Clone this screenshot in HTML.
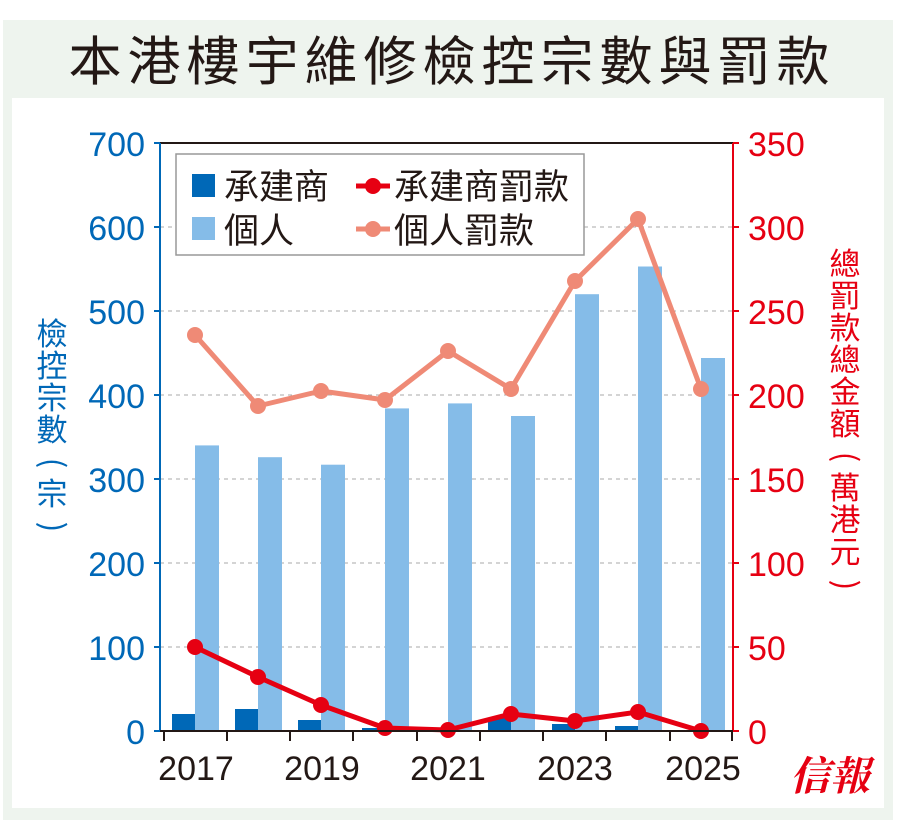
<!DOCTYPE html>
<html><head><meta charset="utf-8"><style>
body{margin:0;width:901px;height:826px;background:#fff;overflow:hidden;font-family:"Liberation Sans","Noto Sans CJK TC",sans-serif}
</style></head><body>
<svg width="901" height="826" xmlns="http://www.w3.org/2000/svg" style="position:absolute;left:0;top:0">
<rect x="3" y="20" width="890" height="800" fill="#eef4ee"/>
<rect x="12" y="98" width="872" height="710" fill="#fff"/>
<text x="452" y="80" font-size="53" text-anchor="middle" fill="#231815" font-family="Noto Sans CJK TC,sans-serif" letter-spacing="6">本港樓宇維修檢控宗數與罰款</text>
<g stroke="#aaa" stroke-dasharray="4,4" stroke-width="1">
<line x1="160" x2="733" y1="227" y2="227"/><line x1="160" x2="733" y1="311" y2="311"/><line x1="160" x2="733" y1="395" y2="395"/><line x1="160" x2="733" y1="479" y2="479"/><line x1="160" x2="733" y1="563" y2="563"/><line x1="160" x2="733" y1="647" y2="647"/>
</g>
<line x1="160" x2="733" y1="143" y2="143" stroke="#231815" stroke-width="2"/>
<g fill="#85bce8">
<rect x="195" y="445.4" width="24" height="285.6"/><rect x="258" y="457.2" width="24" height="273.8"/><rect x="321" y="464.7" width="24" height="266.3"/><rect x="385" y="408.4" width="24" height="322.6"/><rect x="448" y="403.4" width="24" height="327.6"/><rect x="511" y="416" width="24" height="315"/><rect x="575" y="294.2" width="24" height="436.8"/><rect x="638" y="266.5" width="24" height="464.5"/><rect x="701" y="358" width="24" height="373"/>
</g>
<g fill="#0068b7">
<rect x="172" y="714" width="23" height="17"/><rect x="235" y="709" width="23" height="22"/><rect x="298" y="720" width="23" height="11"/><rect x="362" y="728" width="23" height="3"/><rect x="488" y="718" width="23" height="13"/><rect x="552" y="724" width="23" height="7"/><rect x="615" y="726" width="23" height="5"/>
</g>
<polyline fill="none" stroke="#ef8a76" stroke-width="5" stroke-linejoin="round" points="195,335 258,406 321,391 385,400 448,351 511,389 575,281 638,219 701,389"/>
<g fill="#ef8a76"><circle cx="195" cy="335" r="8"/><circle cx="258" cy="406" r="8"/><circle cx="321" cy="391" r="8"/><circle cx="385" cy="400" r="8"/><circle cx="448" cy="351" r="8"/><circle cx="511" cy="389" r="8"/><circle cx="575" cy="281" r="8"/><circle cx="638" cy="219" r="8"/><circle cx="701" cy="389" r="8"/></g>
<polyline fill="none" stroke="#e60012" stroke-width="5" stroke-linejoin="round" points="195,647 258,677 321,705 385,728 448,730 511,714 575,721 638,712 701,731"/>
<g fill="#e60012"><circle cx="195" cy="647" r="8"/><circle cx="258" cy="677" r="8"/><circle cx="321" cy="705" r="8"/><circle cx="385" cy="728" r="8"/><circle cx="448" cy="730" r="8"/><circle cx="511" cy="714" r="8"/><circle cx="575" cy="721" r="8"/><circle cx="638" cy="712" r="8"/><circle cx="701" cy="731" r="8"/></g>
<line x1="160" x2="160" y1="143" y2="731" stroke="#0068b7" stroke-width="2"/>
<line x1="733" x2="733" y1="143" y2="731" stroke="#e60012" stroke-width="2"/>
<line x1="160" x2="733" y1="731" y2="731" stroke="#231815" stroke-width="2"/>
<g stroke="#0068b7" stroke-width="2"><line x1="154" x2="160" y1="143" y2="143"/><line x1="154" x2="160" y1="227" y2="227"/><line x1="154" x2="160" y1="311" y2="311"/><line x1="154" x2="160" y1="395" y2="395"/><line x1="154" x2="160" y1="479" y2="479"/><line x1="154" x2="160" y1="563" y2="563"/><line x1="154" x2="160" y1="647" y2="647"/><line x1="154" x2="160" y1="731" y2="731"/></g>
<g stroke="#e60012" stroke-width="2"><line x1="733" x2="739" y1="143" y2="143"/><line x1="733" x2="739" y1="227" y2="227"/><line x1="733" x2="739" y1="311" y2="311"/><line x1="733" x2="739" y1="395" y2="395"/><line x1="733" x2="739" y1="479" y2="479"/><line x1="733" x2="739" y1="563" y2="563"/><line x1="733" x2="739" y1="647" y2="647"/><line x1="733" x2="739" y1="731" y2="731"/></g>
<g stroke="#231815" stroke-width="2"><line x1="164" x2="164" y1="731" y2="741"/><line x1="227" x2="227" y1="731" y2="741"/><line x1="290" x2="290" y1="731" y2="741"/><line x1="353" x2="353" y1="731" y2="741"/><line x1="417" x2="417" y1="731" y2="741"/><line x1="480" x2="480" y1="731" y2="741"/><line x1="543" x2="543" y1="731" y2="741"/><line x1="606" x2="606" y1="731" y2="741"/><line x1="670" x2="670" y1="731" y2="741"/><line x1="732" x2="732" y1="731" y2="741"/></g>
<g font-size="34" fill="#0068b7" text-anchor="end" font-family="Liberation Sans Narrow,Liberation Sans,sans-serif"><text x="145" y="156">700</text><text x="145" y="240">600</text><text x="145" y="324">500</text><text x="145" y="408">400</text><text x="145" y="492">300</text><text x="145" y="576">200</text><text x="145" y="660">100</text><text x="145" y="744">0</text></g>
<g font-size="34" fill="#e60012" text-anchor="start" font-family="Liberation Sans Narrow,Liberation Sans,sans-serif"><text x="748" y="156">350</text><text x="748" y="240">300</text><text x="748" y="324">250</text><text x="748" y="408">200</text><text x="748" y="492">150</text><text x="748" y="576">100</text><text x="748" y="660">50</text><text x="748" y="744">0</text></g>
<g font-size="34" fill="#231815" text-anchor="middle" font-family="Liberation Sans Narrow,Liberation Sans,sans-serif"><text x="196" y="780">2017</text><text x="322" y="780">2019</text><text x="448" y="780">2021</text><text x="575" y="780">2023</text><text x="703" y="780">2025</text></g>
<rect x="176" y="154" width="408" height="101" fill="#fff" stroke="#999" stroke-width="1.5"/>
<rect x="192" y="174" width="23" height="23" fill="#0068b7"/>
<rect x="192" y="217" width="23" height="23" fill="#85bce8"/>
<line x1="356" x2="390" y1="186" y2="186" stroke="#e60012" stroke-width="5"/><circle cx="373" cy="186" r="8" fill="#e60012"/>
<line x1="356" x2="390" y1="229" y2="229" stroke="#ef8a76" stroke-width="5"/><circle cx="373" cy="229" r="8" fill="#ef8a76"/>
<g font-size="35" fill="#231815" font-family="Noto Sans CJK TC,sans-serif"><text x="224" y="199">承建商</text><text x="224" y="243">個人</text><text x="394" y="199">承建商罰款</text><text x="394" y="243">個人罰款</text></g>
<g font-size="31" fill="#0068b7" text-anchor="middle" font-family="Noto Sans CJK TC,sans-serif"><text x="52" y="345">檢</text><text x="52" y="377">控</text><text x="52" y="409">宗</text><text x="52" y="441">數</text><text x="52" y="473" transform="rotate(90 52 463)">(</text><text x="52" y="505">宗</text><text x="52" y="537" transform="rotate(90 52 527)">)</text></g>
<g font-size="31" fill="#e60012" text-anchor="middle" font-family="Noto Sans CJK TC,sans-serif"><text x="845" y="275">總</text><text x="845" y="307">罰</text><text x="845" y="339">款</text><text x="845" y="371">總</text><text x="845" y="403">金</text><text x="845" y="435">額</text><text x="845" y="467" transform="rotate(90 845 457)">(</text><text x="845" y="499">萬</text><text x="845" y="531">港</text><text x="845" y="563">元</text><text x="845" y="595" transform="rotate(90 845 585)">)</text></g>
<text x="830" y="790" font-size="40" font-weight="bold" fill="#e60012" text-anchor="middle" font-family="Noto Serif CJK SC,serif" font-style="italic">信報</text>
</svg>
</body></html>
